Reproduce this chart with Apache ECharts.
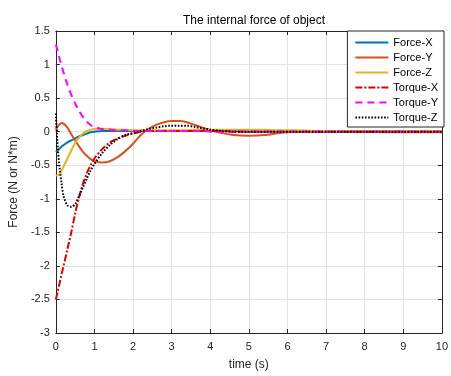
<!DOCTYPE html>
<html>
<head>
<meta charset="utf-8">
<title>The internal force of object</title>
<script src="https://cdn.jsdelivr.net/npm/echarts@6/dist/echarts.min.js"></script>
<style>
  html, body { margin: 0; padding: 0; background: #fff; }
  #chart { width: 451px; height: 376px; }
</style>
</head>
<body>
<div id="chart"></div>
<script>
// time samples (s)
const time = [0, 0.05, 0.1, 0.15, 0.2, 0.3, 0.4, 0.5, 0.6, 0.7, 0.8, 0.9, 1.0,
  1.2, 1.4, 1.6, 1.8, 2.0, 2.2, 2.4, 2.6, 2.8, 3.0, 3.2, 3.4, 3.6, 3.8, 4.0,
  4.3, 4.6, 5.0, 5.4, 5.8, 6.2, 7, 8, 9, 10];

const forceX = [-0.3, -0.28, -0.25, -0.22, -0.2, -0.16, -0.13, -0.1, -0.07, -0.05, -0.03, -0.01, 0,
  0.01, 0.01, 0.01, 0.01, 0.01, 0.01, 0.01, 0.01, 0.01, 0.01, 0.01, 0.01, 0.01, 0.01, 0.01,
  0.01, 0.01, 0, 0, 0, 0, 0, 0, 0, 0];
const forceY = [0.03, 0.08, 0.11, 0.13, 0.12, 0.06, -0.04, -0.13, -0.22, -0.3, -0.36, -0.41, -0.44,
  -0.46, -0.44, -0.38, -0.29, -0.18, -0.05, 0.04, 0.1, 0.14, 0.16, 0.16, 0.14, 0.1, 0.06, 0.02,
  -0.02, -0.05, -0.06, -0.05, -0.02, 0, 0.01, 0, -0.01, -0.01];
const forceZ = [-0.65, -0.65, -0.64, -0.58, -0.52, -0.4, -0.28, -0.17, -0.09, -0.03, 0.01, 0.03, 0.04,
  0.04, 0.04, 0.03, 0.03, 0.02, 0.02, 0.02, 0.02, 0.02, 0.02, 0.02, 0.02, 0.03, 0.03, 0.03,
  0.03, 0.03, 0.03, 0.03, 0.02, 0.02, 0.01, 0.01, 0.01, 0.01];
const torqueX = [-2.5, -2.38, -2.25, -2.12, -2.0, -1.75, -1.5, -1.22, -0.98, -0.78, -0.62, -0.5, -0.4,
  -0.26, -0.16, -0.1, -0.06, -0.03, 0, 0.01, 0.01, 0.01, 0.01, 0.01, 0.01, 0.01, 0.01, 0.01,
  0.01, 0, 0, 0, 0, 0, 0, 0, 0, 0];
const torqueY = [1.3, 1.19, 1.08, 0.98, 0.88, 0.7, 0.55, 0.42, 0.31, 0.22, 0.15, 0.1, 0.07,
  0.04, 0.03, 0.02, 0.02, 0.01, 0.01, 0.01, 0.01, 0.01, 0.01, 0.01, 0.01, 0.01, 0.01, 0,
  0, 0, 0, 0, 0, 0, 0, 0, 0, 0];
const torqueZ = [0.27, -0.25, -0.55, -0.78, -0.96, -1.1, -1.12, -1.08, -0.96, -0.83, -0.7, -0.58, -0.48,
  -0.32, -0.2, -0.11, -0.05, -0.02, 0.01, 0.04, 0.06, 0.08, 0.09, 0.09, 0.09, 0.07, 0.05, 0.03,
  0.01, 0, 0, 0, 0, 0, 0, 0, 0, 0];

const names = ['Force-X', 'Force-Y', 'Force-Z', 'Torque-X', 'Torque-Y', 'Torque-Z'];
const values = [forceX, forceY, forceZ, torqueX, torqueY, torqueZ];
const colors = ['#0072BD', '#D95319', '#EDB120', '#E00000', '#FF00FF', '#000000'];
const dashes = ['solid', 'solid', 'solid', [7, 2, 2, 2], [7, 5], [1.6, 1.6]];

const axisColor = '#262626';
const font = 'Liberation Sans, Arial, Helvetica, sans-serif';

const chart = echarts.init(document.getElementById('chart'));

const series = names.map((name, i) => ({
  name: name,
  type: 'line',
  data: time.map((t, k) => [t, values[i][k]]),
  smooth: 0.3,
  showSymbol: false,
  symbol: 'none',
  color: colors[i],
  lineStyle: { color: colors[i], width: 2, type: dashes[i] },
  animation: false
}));

// box ticks on the top and right, like the original
const plainAxis = {
  axisLine: { show: true, onZero: false, lineStyle: { color: axisColor, width: 1 } },
  axisTick: { show: true, inside: true, length: 4, lineStyle: { color: axisColor } },
  axisLabel: { show: false },
  splitLine: { show: false }
};

chart.setOption({
  backgroundColor: '#fff',
  animation: false,
  title: {
    text: 'The internal force of object',
    left: 249,
    textAlign: 'center',
    top: 10,
    textStyle: { fontFamily: font, fontSize: 12, fontWeight: 'normal', color: '#000' }
  },
  grid: { left: 54, right: 7, top: 31, bottom: 38 },
  legend: {
    data: names,
    orient: 'vertical',
    right: 7,
    top: 31,
    backgroundColor: '#fff',
    borderColor: axisColor,
    borderWidth: 1,
    borderRadius: 0,
    padding: [6, 6, 4, 7],
    itemWidth: 33,
    itemHeight: 10,
    itemGap: 4,
    // line only, no marker
    itemStyle: { opacity: 0 },
    textStyle: { fontFamily: font, fontSize: 11, color: '#000', lineHeight: 11 }
  },
  xAxis: [
    {
      type: 'value',
      min: 0,
      max: 10,
      interval: 1,
      name: 'time (s)',
      nameLocation: 'middle',
      nameGap: 26,
      nameTextStyle: { fontFamily: font, fontSize: 12, color: axisColor },
      axisLine: { show: true, onZero: false, lineStyle: { color: axisColor, width: 1 } },
      axisTick: { show: true, inside: true, length: 4, lineStyle: { color: axisColor } },
      axisLabel: { fontFamily: font, fontSize: 11, color: axisColor, margin: 8 },
      splitLine: { show: true, lineStyle: { color: '#e3e3e3', width: 1 } }
    },
    Object.assign({ type: 'value', position: 'top', min: 0, max: 10, interval: 1 }, plainAxis)
  ],
  yAxis: [
    {
      type: 'value',
      min: -3,
      max: 1.5,
      interval: 0.5,
      name: 'Force (N or N*m)',
      nameLocation: 'middle',
      nameGap: 28,
      nameTextStyle: { fontFamily: font, fontSize: 12, color: axisColor },
      axisLine: { show: true, onZero: false, lineStyle: { color: axisColor, width: 1 } },
      axisTick: { show: true, inside: true, length: 4, lineStyle: { color: axisColor } },
      axisLabel: { fontFamily: font, fontSize: 11, color: axisColor, margin: 6 },
      splitLine: { show: true, lineStyle: { color: '#e3e3e3', width: 1 } }
    },
    Object.assign({ type: 'value', position: 'right', min: -3, max: 1.5, interval: 0.5 }, plainAxis)
  ],
  series: series
});
</script>
</body>
</html>
